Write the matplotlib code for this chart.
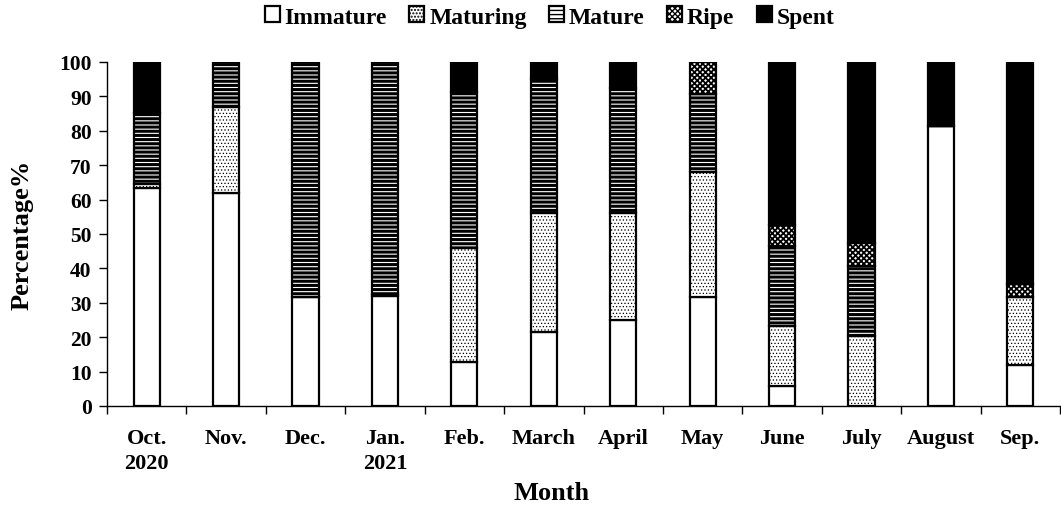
import numpy as np
import matplotlib.pyplot as plt

plt.rcParams['font.family'] = 'Liberation Serif'
plt.rcParams['font.weight'] = 'bold'

months = ['Oct.\n2020', 'Nov.', 'Dec.', 'Jan.\n2021', 'Feb.', 'March', 'April',
          'May', 'June', 'July', 'August', 'Sep.']
immature = [63.5, 62.0, 31.6, 32.0, 12.7, 21.4, 25.0, 31.6, 5.9, 0.0, 81.3, 11.9]
maturing = [1.0, 24.8, 0.0, 0.5, 33.2, 34.6, 31.0, 36.3, 17.3, 20.3, 0.0, 19.7]
mature = [20.7, 13.2, 68.4, 67.5, 45.3, 39.1, 36.4, 22.8, 23.2, 20.3, 0.0, 0.0]
ripe = [0.0, 0.0, 0.0, 0.0, 0.0, 0.0, 0.0, 9.3, 6.3, 6.8, 0.0, 3.9]
spent = [14.8, 0.0, 0.0, 0.0, 8.8, 4.6, 7.6, 0.0, 47.3, 52.6, 18.7, 64.5]

series = [('Immature', immature, '', 1.0),
          ('Maturing', maturing, '.....', 0.5),
          ('Mature', mature, '----', 2.2),
          ('Ripe', ripe, 'xxxxxx', 1.3),
          ('Spent', spent, '', 1.0)]

fig = plt.figure(figsize=(10.61, 5.06), dpi=100)
ax = fig.add_axes([107 / 1061, 1 - 407 / 506, (1060 - 107) / 1061, (407 - 63) / 506])

x = np.arange(len(months))
bottom = np.zeros(len(months))
for name, vals, hatch, hlw in series:
    face = 'black' if name == 'Spent' else 'white'
    with plt.rc_context({'hatch.linewidth': hlw}):
        ax.bar(x, vals, 0.33, bottom=bottom, color=face, edgecolor='black',
               linewidth=1.6, hatch=hatch, label=name)
    bottom += np.array(vals)

ax.set_ylim(0, 100)
ax.set_yticks(range(0, 101, 10))
ax.set_xlim(-0.5, 11.43)
ax.set_xticks(x)
ax.set_xticklabels(months, fontsize=16, fontweight='bold', linespacing=1.3)
ax.set_xticks(np.arange(-0.5, 12, 1), minor=True)
ax.tick_params(axis='x', which='major', length=0, pad=16)
ax.tick_params(axis='x', which='minor', length=6, width=1, direction='out')
ax.tick_params(axis='y', length=6, width=1, direction='out', labelsize=15.5, pad=5)
for lab in ax.get_yticklabels():
    lab.set_fontweight('bold')

ax.spines['top'].set_visible(False)
ax.spines['right'].set_visible(False)
ax.spines['left'].set_linewidth(1.0)
ax.spines['bottom'].set_linewidth(1.0)

ax.set_ylabel('Percentage%', fontsize=19, fontweight='bold')
ax.set_xlabel('Month', fontsize=19, fontweight='bold')
ax.yaxis.set_label_coords(-85 / 953, 0.5)
ax.xaxis.set_label_coords((552 - 107) / 953, -(494 - 407) / 344)
ax.xaxis.label.set_va('center')
ax.yaxis.label.set_va('center')

fig.legend(loc='center', bbox_to_anchor=(0.518, 1 - 18 / 506), ncol=5, frameon=False,
           handlelength=0.64, handleheight=0.64, handletextpad=0.2,
           columnspacing=0.95, prop={'weight': 'bold', 'size': 17})

fig.savefig('out.png', dpi=100)
